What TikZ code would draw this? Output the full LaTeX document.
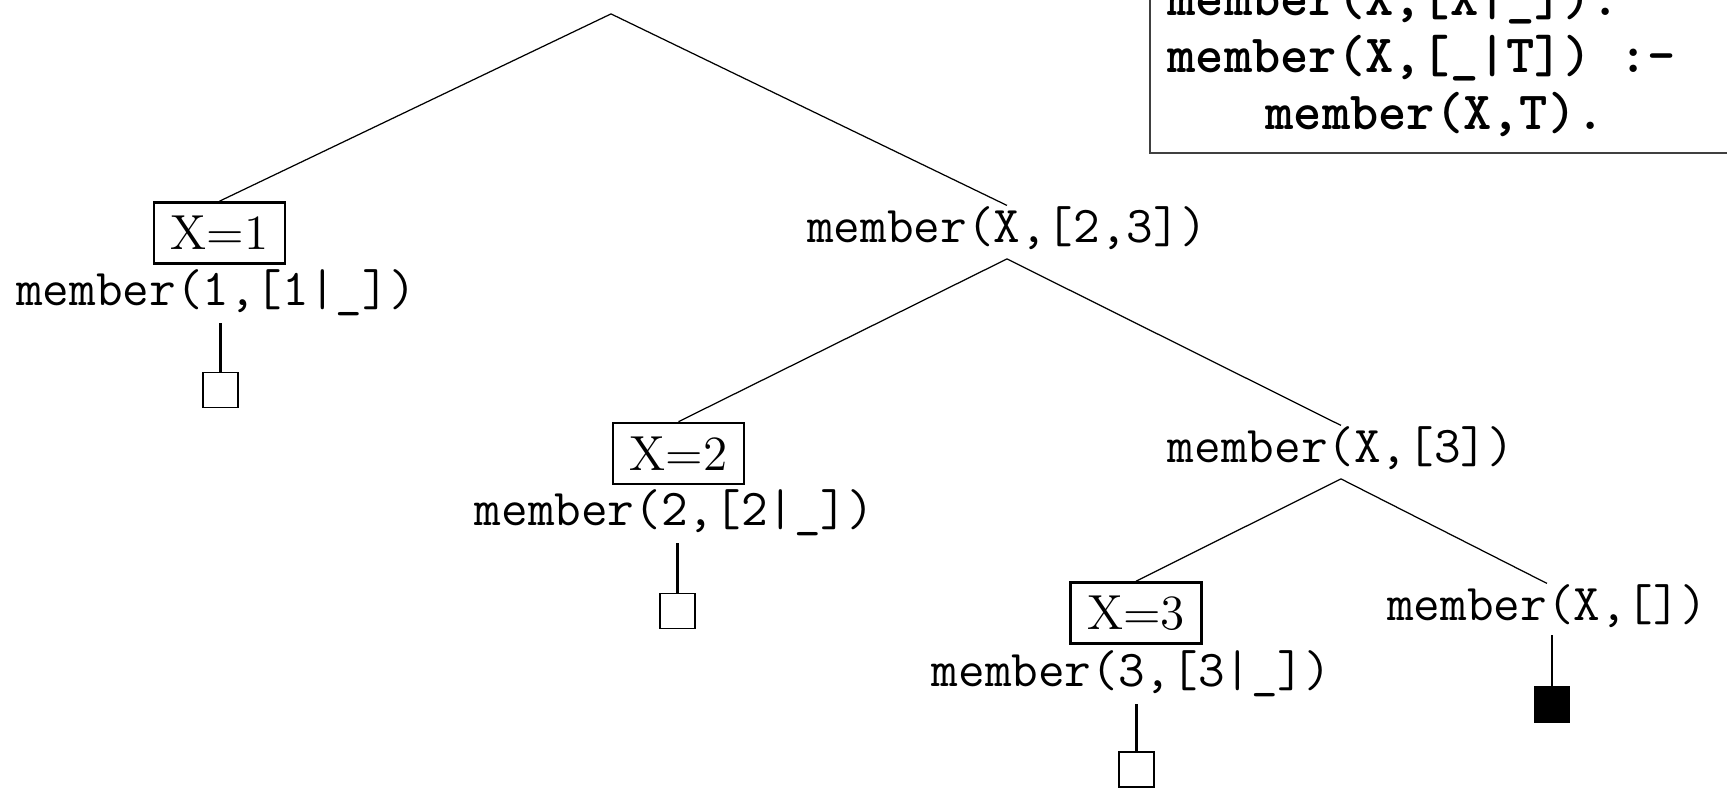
\documentclass[tikz,border=0pt]{standalone}
\usepackage{fontspec}
\usetikzlibrary{positioning}

\begin{document}
\begin{tikzpicture}[x=0.01cm, y=-0.01cm,
    goal/.style={inner sep=0, anchor=base, font=\fontsize{14.7}{17}\selectfont\ttfamily},
    binding/.style={draw, line width=0.75pt, inner sep=0, minimum width=1.31cm, minimum height=0.61cm, font=\fontsize{14}{17}\selectfont\rmfamily},
    branch/.style={line width=0.35pt},
    stem/.style={line width=0.7pt, shorten >=0.07cm},
    leaf/.style={draw, line width=0.5pt, fill=white, minimum size=0.35cm, inner sep=0},
    fail/.style={leaf, fill=black},
    clause/.style={inner sep=0, anchor=base west, font=\fontsize{15.3}{16}\selectfont\ttfamily\bfseries}]
\useasboundingbox (0,0) rectangle (1727,787);
\clip (0,0) rectangle (1727,787);

\node[goal] (root) at (611,-10) {member(X,[1,2,3])};

\node[binding] (b1) at (219.5,233) {X=1};
\node[goal] (g1) at (216,305) {member(1,[1|\_])};
\node[leaf] (s1) at (220.5,390) {};

\node[goal] (g23) at (1007,242) {member(X,[2,3])};
\node[binding] (b2) at (678.5,453.5) {X=2};
\node[goal] (g2) at (674.5,525) {member(2,[2|\_])};
\node[leaf] (s2) at (677.5,611) {};

\node[goal] (g3) at (1341,462) {member(X,[3])};
\node[binding] (b3) at (1136,613) {X=3};
\node[goal] (g3b) at (1131.5,686) {member(3,[3|\_])};
\node[leaf] (s3) at (1136.5,769.5) {};

\node[goal] (g0) at (1547,620) {member(X,[])};
\node[fail] (s0) at (1552,704.5) {};

\draw[branch] ([yshift=-0.16cm]root.south) -- (b1.north);
\draw[branch] ([yshift=-0.16cm]root.south) -- (g23.north);
\draw[branch] ([yshift=-0.09cm]g23.south) -- (b2.north);
\draw[branch] ([yshift=-0.09cm]g23.south) -- (g3.north);
\draw[branch] ([yshift=-0.09cm]g3.south) -- (b3.north);
\draw[branch] ([yshift=-0.09cm]g3.south) -- (g0.north);

\draw[stem] (s1.north) -- (s1.north |- g1.south);
\draw[stem] (s2.north) -- (s2.north |- g2.south);
\draw[stem] (s3.north) -- (s3.north |- g3b.south);
\draw[stem] (s0.north) -- (s0.north |- g0.south);

\node[clause] (c1) at (1167,15) {member(X,[X|\_]).};
\node[clause] (c2) at (1167,72) {member(X,[\_|T]) :-};
\node[clause] (c3) at (1265,129) {member(X,T).};
\draw[line width=0.6pt, black!75] (1150,-20) |- (1760,153);

\end{tikzpicture}
\end{document}
